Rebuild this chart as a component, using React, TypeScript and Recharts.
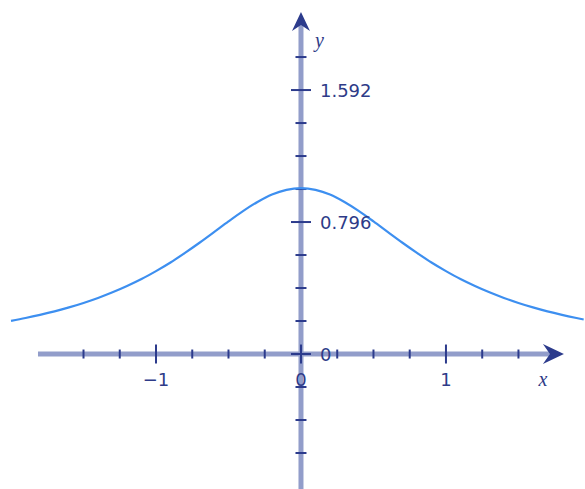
import React from 'react';
import { LineChart, Line, XAxis, YAxis, ReferenceLine, ReferenceDot } from 'recharts';

// Curve samples
const xs = [-2, -1.9, -1.8, -1.7, -1.6, -1.5, -1.4, -1.3, -1.2, -1.1, -1, -0.9, -0.8, -0.7, -0.6, -0.5, -0.4, -0.3, -0.2, -0.1, 0,
  0.1, 0.2, 0.3, 0.4, 0.5, 0.6, 0.7, 0.8, 0.9, 1, 1.1, 1.2, 1.3, 1.4, 1.5, 1.6, 1.7, 1.8, 1.9, 1.95];
const ys = [0.2, 0.217, 0.236, 0.257, 0.281, 0.308, 0.338, 0.372, 0.41, 0.452, 0.5, 0.552, 0.61, 0.671, 0.735, 0.8, 0.862, 0.917, 0.962, 0.99, 1.0,
  0.99, 0.962, 0.917, 0.862, 0.8, 0.735, 0.671, 0.61, 0.552, 0.5, 0.452, 0.41, 0.372, 0.338, 0.308, 0.281, 0.257, 0.236, 0.217, 0.208];

// Axis ticks
const xMinorTicks = [-1.5, -1.25, -0.75, -0.5, -0.25, 0.25, 0.5, 0.75, 1.25, 1.5];
const xMajorTicks = [-1, 0, 1];
const yMinorTicks = [-0.597, -0.398, -0.199, 0.199, 0.398, 0.597, 0.995, 1.194, 1.393, 1.791];
const yMajorTicks = [0, 0.796, 1.592];
const xTickLabels = [
  { v: -1, text: '\u22121' },
  { v: 0, text: '0' },
  { v: 1, text: '1' },
];
const yTickLabels = [
  { v: 0, text: '0' },
  { v: 0.796, text: '0.796' },
  { v: 1.592, text: '1.592' },
];

const data = xs.map((x, i) => ({ x, y: ys[i] }));

const X_DOMAIN: [number, number] = [-2.076, 1.959];
const Y_DOMAIN: [number, number] = [-0.814, 2.135];
const X_START = -1.814;
const X_END = 1.717;
const Y_END = 2.02;

const AXIS_COLOR = '#929dca';
const TICK_COLOR = '#2c3b8c';
const TEXT_COLOR = '#2e3b88';
const CURVE_COLOR = '#3d8ff0';
const NUM_FONT = '"DejaVu Sans", Verdana, sans-serif';
const VAR_FONT = '"Liberation Serif", "Times New Roman", serif';

// pixel half-lengths converted into data units
const PX_X = (X_DOMAIN[1] - X_DOMAIN[0]) / 585;
const PX_Y = (Y_DOMAIN[1] - Y_DOMAIN[0]) / 489;

const RightArrow = (p: any) => (
  <path
    d={`M ${p.cx} ${p.cy} L ${p.cx - 21} ${p.cy - 10} L ${p.cx - 14} ${p.cy} L ${p.cx - 21} ${p.cy + 10} Z`}
    fill={TICK_COLOR}
  />
);
const UpArrow = (p: any) => (
  <path
    d={`M ${p.cx} ${p.cy} L ${p.cx - 9} ${p.cy + 19} L ${p.cx} ${p.cy + 13} L ${p.cx + 9} ${p.cy + 19} Z`}
    fill={TICK_COLOR}
  />
);

export default function App() {
  return (
    <div style={{ position: 'absolute', left: 0, top: 0, background: '#fff' }}>
      <LineChart width={585} height={489} data={data} margin={{ top: 0, right: 0, bottom: 0, left: 0 }}>
        <XAxis type="number" dataKey="x" domain={X_DOMAIN} hide />
        <YAxis type="number" domain={Y_DOMAIN} hide />
        {/* axis lines */}
        <ReferenceLine segment={[{ x: X_START, y: 0 }, { x: X_END, y: 0 }]} stroke={AXIS_COLOR} strokeWidth={5} />
        <ReferenceLine segment={[{ x: 0, y: Y_DOMAIN[0] }, { x: 0, y: Y_END }]} stroke={AXIS_COLOR} strokeWidth={5} />
        {/* x ticks */}
        {xMinorTicks.map((t) => (
          <ReferenceLine key={`xm${t}`} segment={[{ x: t, y: -4.5 * PX_Y }, { x: t, y: 4.5 * PX_Y }]} stroke={TICK_COLOR} strokeWidth={2} />
        ))}
        {xMajorTicks.map((t) => (
          <ReferenceLine key={`xM${t}`} segment={[{ x: t, y: -9.5 * PX_Y }, { x: t, y: 9.5 * PX_Y }]} stroke={TICK_COLOR} strokeWidth={2} />
        ))}
        {/* y ticks */}
        {yMinorTicks.map((t) => (
          <ReferenceLine key={`ym${t}`} segment={[{ x: -5.5 * PX_X, y: t }, { x: 5.5 * PX_X, y: t }]} stroke={TICK_COLOR} strokeWidth={2} />
        ))}
        {yMajorTicks.map((t) => (
          <ReferenceLine key={`yM${t}`} segment={[{ x: -10 * PX_X, y: t }, { x: 10 * PX_X, y: t }]} stroke={TICK_COLOR} strokeWidth={2} />
        ))}
        {/* arrows */}
        <ReferenceDot x={X_END + 14 * PX_X} y={0} r={0} shape={RightArrow} />
        <ReferenceDot x={0} y={Y_END + 7 * PX_Y} r={0} shape={UpArrow} />
        {/* tick labels */}
        {xTickLabels.map((l) => (
          <ReferenceDot
            key={`xl${l.v}`}
            x={l.v}
            y={0}
            r={0}
            shape={(p: any) => (
              <text x={p.cx} y={p.cy + 32} textAnchor="middle" fontFamily={NUM_FONT} fontSize={18} fill={TEXT_COLOR}>
                {l.text}
              </text>
            )}
          />
        ))}
        {yTickLabels.map((l) => (
          <ReferenceDot
            key={`yl${l.v}`}
            x={0}
            y={l.v}
            r={0}
            shape={(p: any) => (
              <text x={p.cx + 19} y={p.cy + 7} textAnchor="start" fontFamily={NUM_FONT} fontSize={18} fill={TEXT_COLOR}>
                {l.text}
              </text>
            )}
          />
        ))}
        {/* axis names */}
        <ReferenceDot
          x={X_END}
          y={0}
          r={0}
          shape={(p: any) => (
            <text x={p.cx - 7} y={p.cy + 32} textAnchor="middle" fontFamily={VAR_FONT} fontStyle="italic" fontSize={20} fill={TEXT_COLOR}>
              x
            </text>
          )}
        />
        <ReferenceDot
          x={0}
          y={Y_END}
          r={0}
          shape={(p: any) => (
            <text x={p.cx + 14} y={p.cy + 28} textAnchor="start" fontFamily={VAR_FONT} fontStyle="italic" fontSize={20} fill={TEXT_COLOR}>
              y
            </text>
          )}
        />
        <Line
          type="monotone"
          dataKey="y"
          stroke={CURVE_COLOR}
          strokeWidth={2.2}
          strokeDasharray="none"
          strokeLinecap="butt"
          dot={false}
          activeDot={false}
          isAnimationActive={false}
        />
      </LineChart>
    </div>
  );
}
